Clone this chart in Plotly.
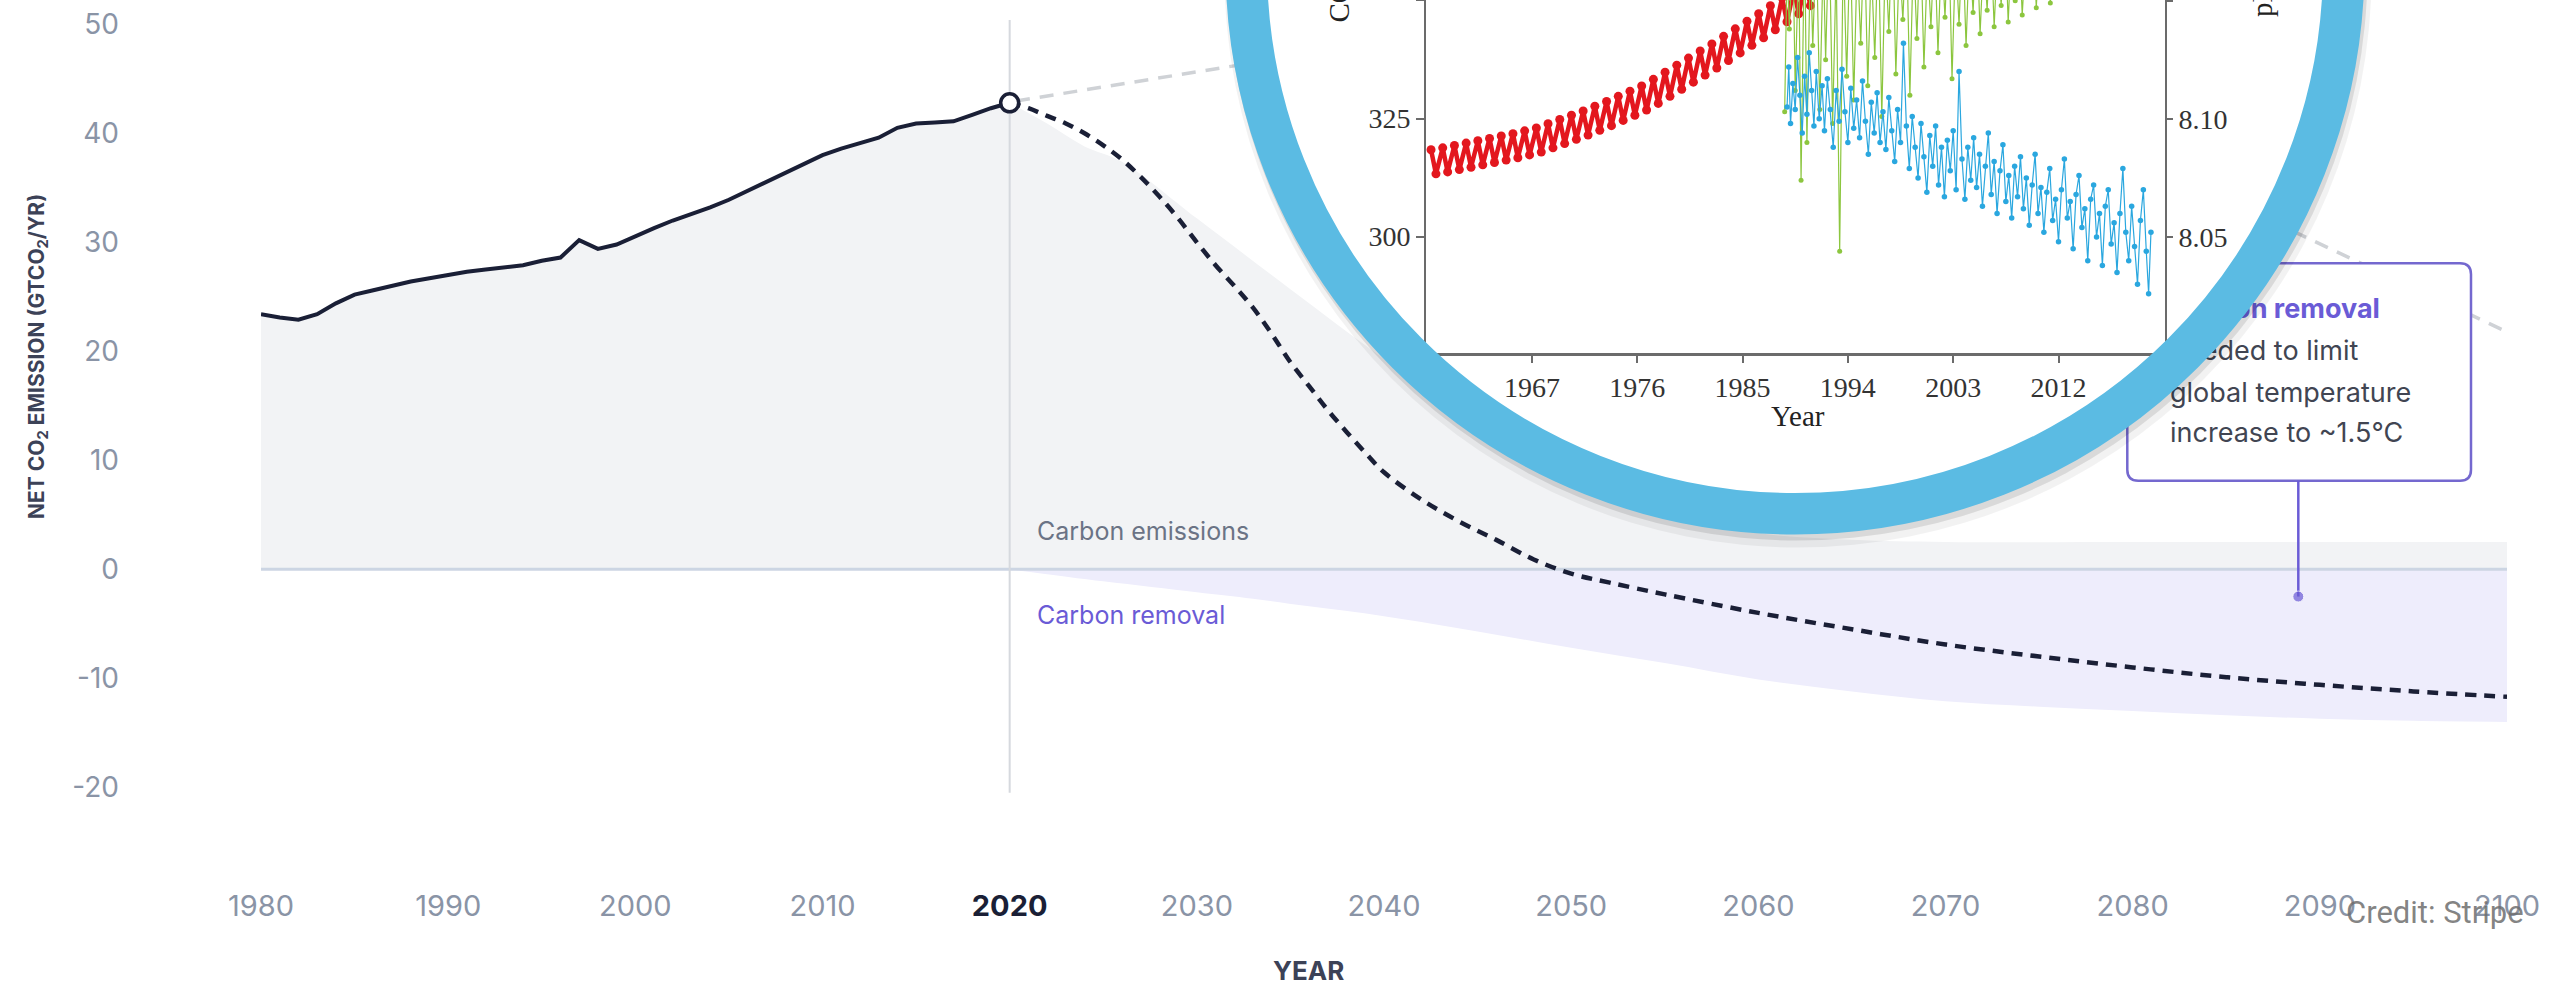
import plotly.graph_objects as go

# ---------------- main chart data (GtCO2 / yr) ----------------
hist_years = [1980, 1981, 1982, 1983, 1984, 1985, 1986, 1987, 1988, 1989,
              1990, 1991, 1992, 1993, 1994, 1995, 1996, 1997, 1998, 1999,
              2000, 2001, 2002, 2003, 2004, 2005, 2006, 2007, 2008, 2009,
              2010, 2011, 2012, 2013, 2014, 2015, 2016, 2017, 2018, 2019, 2020]
hist_emissions = [23.4, 23.1, 22.9, 23.4, 24.4, 25.2, 25.6, 26.0, 26.4, 26.7,
                  27.0, 27.3, 27.5, 27.7, 27.9, 28.3, 28.6, 30.2, 29.4, 29.8,
                  30.6, 31.3, 32.0, 32.6, 33.2, 33.9, 34.7, 35.5, 36.3, 37.2,
                  38.0, 38.6, 39.1, 39.6, 40.5, 40.9, 41.0, 41.1, 41.7, 42.3, 42.8]

proj_years = [2020, 2021, 2022, 2023, 2024, 2025, 2026, 2027, 2028, 2029,
              2030, 2031, 2032, 2033, 2034, 2035, 2036, 2037, 2038, 2039,
              2040, 2042, 2044, 2046, 2048, 2050, 2052, 2055, 2060, 2065,
              2070, 2075, 2080, 2085, 2090, 2095, 2100]
proj_net = [42.8, 42.3, 41.6, 40.9, 40.0, 38.9, 37.6, 36.0, 34.2, 32.2,
            30.0, 27.9, 26.0, 24.0, 21.6, 19.0, 16.8, 14.6, 12.6, 10.7,
            8.9, 6.4, 4.4, 2.7, 0.9, -0.4, -1.2, -2.3, -4.0, -5.5,
            -6.9, -8.0, -9.0, -9.9, -10.6, -11.2, -11.7]

emis_years = [2020, 2022, 2024, 2026, 2030, 2035, 2040, 2045, 2050, 2055,
              2060, 2065, 2070, 2080, 2090, 2100]
emis_vals = [42.8, 40.9, 38.8, 37.4, 32.2, 25.7, 19.3, 13.3, 8.3, 5.0,
             3.3, 2.7, 2.5, 2.5, 2.5, 2.5]

removal_years = [2020, 2025, 2030, 2033, 2036, 2040, 2045, 2050, 2055, 2060,
                 2065, 2070, 2075, 2080, 2085, 2090, 2095, 2100]
removal_vals = [0.0, -1.1, -2.1, -2.7, -3.4, -4.3, -5.7, -7.2, -8.6, -10.1,
                -11.2, -12.1, -12.6, -13.0, -13.4, -13.7, -13.9, -14.0]

x_ticks = [1980, 1990, 2000, 2010, 2020, 2030, 2040, 2050, 2060, 2070, 2080, 2090, 2100]
y_ticks = [-20, -10, 0, 10, 20, 30, 40, 50]
y_tick_text = ["-20", "-10", "0", "10", "20", "30", "40", "50"]
callout_year = 2088.85
callout_value = -2.5
box_lines = ["<b>Carbon removal</b>", "needed to limit", "global temperature", "increase to ~1.5°C"]

# ---------------- inset data ----------------
red_years = [1958, 1959, 1960, 1961, 1962, 1963, 1964, 1965, 1966, 1967, 1968,
             1969, 1970, 1971, 1972, 1973, 1974, 1975, 1976, 1977, 1978, 1979,
             1980, 1981, 1982, 1983, 1984, 1985, 1986, 1987, 1988, 1989, 1990]
red_peak = [318.4, 318.8, 319.3, 319.8, 320.3, 320.8, 321.3, 321.8, 322.4, 323.0, 323.9,
            324.8, 325.7, 326.6, 327.6, 328.6, 329.7, 330.8, 331.9, 333.3, 334.8, 336.3,
            337.8, 339.3, 340.8, 342.4, 344.0, 345.6, 347.2, 348.9, 350.6, 352.3, 354.0]
red_trough = [313.3, 313.7, 314.2, 314.7, 315.2, 315.7, 316.2, 316.7, 317.3, 317.9, 318.8,
              319.7, 320.6, 321.5, 322.5, 323.5, 324.6, 325.7, 326.8, 328.2, 329.7, 331.2,
              332.7, 334.2, 335.7, 337.3, 338.9, 340.5, 342.1, 343.8, 345.5, 347.2, 348.9]
PEAK_MONTH = 0.38
TROUGH_MONTH = 0.80

blue_t = [1988.8, 1988.95, 1989.1, 1989.3, 1989.5, 1989.7, 1989.9, 1990.1, 1990.3, 1990.5,
          1990.7, 1990.9, 1991.1, 1991.3, 1991.55, 1991.8, 1992.0, 1992.25, 1992.5, 1992.75,
          1993.0, 1993.25, 1993.5, 1993.75, 1994.0, 1994.25, 1994.5, 1994.75, 1995.0, 1995.25,
          1995.5, 1995.75, 1996.0, 1996.25, 1996.5, 1996.75, 1997.0, 1997.25, 1997.5, 1997.75,
          1998.0, 1998.25, 1998.5, 1998.75, 1999.0, 1999.25, 1999.5, 1999.75, 2000.0, 2000.25,
          2000.5, 2000.75, 2001.0, 2001.25, 2001.5, 2001.75, 2002.0, 2002.25, 2002.5, 2002.75,
          2003.0, 2003.25, 2003.5, 2003.75, 2004.0, 2004.25, 2004.5, 2004.75, 2005.0, 2005.25,
          2005.5, 2005.75, 2006.0, 2006.25, 2006.5, 2006.75, 2007.0, 2007.25, 2007.5, 2007.75,
          2008.0, 2008.25, 2008.5, 2008.75, 2009.0, 2009.25, 2009.5, 2009.75, 2010.0, 2010.25,
          2010.5, 2010.75, 2011.0, 2011.25, 2011.5, 2011.75, 2012.0, 2012.25, 2012.5, 2012.75,
          2013.0, 2013.25, 2013.5, 2013.75, 2014.0, 2014.25, 2014.5, 2014.75, 2015.0, 2015.25,
          2015.5, 2015.75, 2016.0, 2016.25, 2016.5, 2016.75, 2017.0, 2017.25, 2017.5, 2017.75,
          2018.0, 2018.25, 2018.5, 2018.75, 2019.0, 2019.25, 2019.5, 2019.7, 2019.9]
blue_ph = [8.105, 8.122, 8.098, 8.115, 8.104, 8.126, 8.110, 8.094, 8.118, 8.102,
           8.128, 8.112, 8.097, 8.120, 8.100, 8.114, 8.095, 8.117, 8.104, 8.088,
           8.112, 8.099, 8.121, 8.103, 8.090, 8.113, 8.096, 8.108, 8.092, 8.116,
           8.099, 8.085, 8.107, 8.094, 8.111, 8.090, 8.103, 8.087, 8.109, 8.095,
           8.082, 8.104, 8.090, 8.132, 8.097, 8.079, 8.101, 8.088, 8.075, 8.098,
           8.084, 8.069, 8.093, 8.080, 8.097, 8.072, 8.088, 8.067, 8.091, 8.078,
           8.095, 8.070, 8.120, 8.083, 8.066, 8.088, 8.074, 8.092, 8.071, 8.085,
           8.063, 8.080, 8.094, 8.068, 8.082, 8.060, 8.078, 8.089, 8.065, 8.076,
           8.058, 8.080, 8.067, 8.084, 8.062, 8.075, 8.055, 8.072, 8.085, 8.060,
           8.071, 8.052, 8.069, 8.079, 8.057, 8.066, 8.048, 8.070, 8.083, 8.058,
           8.065, 8.045, 8.068, 8.076, 8.054, 8.062, 8.040, 8.066, 8.072, 8.050,
           8.060, 8.038, 8.063, 8.070, 8.047, 8.056, 8.035, 8.060, 8.079, 8.052,
           8.040, 8.063, 8.046, 8.030, 8.057, 8.070, 8.044, 8.026, 8.052]

green_t = [1988.6, 1988.8, 1989.0, 1989.3, 1989.5, 1989.8, 1990.0, 1990.3, 1990.5, 1990.8,
           1991.0, 1991.3, 1991.6, 1991.9, 1992.1, 1992.4, 1992.7, 1993.0, 1993.3, 1993.6,
           1993.9, 1994.2, 1994.5, 1994.8, 1995.1, 1995.4, 1995.7, 1996.0, 1996.3, 1996.6,
           1996.9, 1997.2, 1997.5, 1997.8, 1998.1, 1998.4, 1998.7, 1999.0, 1999.3, 1999.6,
           1999.9, 2000.2, 2000.5, 2000.8, 2001.1, 2001.4, 2001.7, 2002.0, 2002.3, 2002.6,
           2002.9, 2003.2, 2003.5, 2003.8, 2004.1, 2004.4, 2004.7, 2005.0, 2005.3, 2005.6,
           2005.9, 2006.2, 2006.5, 2006.8, 2007.1, 2007.4, 2007.7, 2008.0, 2008.3, 2008.6,
           2008.9, 2009.2, 2009.5, 2009.8, 2010.1, 2010.4, 2010.7, 2011.0, 2011.3, 2011.6, 2011.8]
green_ph = [8.103, 8.165, 8.138, 8.175, 8.112, 8.170, 8.074, 8.180, 8.090, 8.168,
            8.131, 8.176, 8.104, 8.170, 8.125, 8.182, 8.098, 8.165, 8.044, 8.172,
            8.118, 8.178, 8.108, 8.169, 8.132, 8.181, 8.114, 8.166, 8.126, 8.177,
            8.101, 8.170, 8.137, 8.183, 8.119, 8.168, 8.142, 8.178, 8.110, 8.171,
            8.134, 8.180, 8.122, 8.167, 8.139, 8.176, 8.128, 8.171, 8.143, 8.182,
            8.117, 8.169, 8.140, 8.177, 8.131, 8.172, 8.145, 8.180, 8.136, 8.170,
            8.146, 8.178, 8.139, 8.171, 8.148, 8.182, 8.141, 8.174, 8.150, 8.179,
            8.144, 8.171, 8.152, 8.183, 8.147, 8.176, 8.154, 8.180, 8.149, 8.177, 8.156]
inset_x_ticks = [1967, 1976, 1985, 1994, 2003, 2012]
inset_co2_ticks = [300, 325, 350]
inset_ph_ticks = [8.05, 8.10, 8.15]
inset_ph_text = ["8.05", "8.10", "8.15"]

# interleave seasonal peaks/troughs
red_t, red_ppm = [], []
for yr, pk, tr in zip(red_years, red_peak, red_trough):
    red_t += [yr + PEAK_MONTH, yr + TROUGH_MONTH]
    red_ppm += [pk, tr]

# ---------------- geometry helpers (pixel -> paper) ----------------
W, H = 2552, 985
ML, MR, MT, MB = 261, 45, 0, 105
PW = W - ML - MR
PH = H - MT - MB


def px(x):
    return (x - ML) / PW


def py(y):
    return (PH + MT - y) / PH


def rrect(x0, y0, x1, y1, r):
    pts = [("M", x0 + r, y0), ("L", x1 - r, y0), ("Q", x1, y0, x1, y0 + r),
           ("L", x1, y1 - r), ("Q", x1, y1, x1 - r, y1), ("L", x0 + r, y1),
           ("Q", x0, y1, x0, y1 - r), ("L", x0, y0 + r), ("Q", x0, y0, x0 + r, y0)]
    s = ""
    for p in pts:
        if p[0] == "Q":
            s += "Q%.5f,%.5f %.5f,%.5f " % (px(p[1]), py(p[2]), px(p[3]), py(p[4]))
        else:
            s += "%s%.5f,%.5f " % (p[0], px(p[1]), py(p[2]))
    return s + "Z"


Y0_PX = 569.3       # pixel row of value 0
PX_PER_UNIT = 10.9  # pixels per GtCO2
PX_PER_YEAR = PW / 120.0
y_top = Y0_PX / PX_PER_UNIT
y_bot = -(PH - Y0_PX) / PX_PER_UNIT

DARK = "#1A1F36"
GRAY_TXT = "#8A94A6"
TITLE = "#3C4257"
PURPLE = "#6A5BD6"
FONT = "Inter, Roboto, sans-serif"
SERIF = "Liberation Serif, Times New Roman, serif"

fig = go.Figure()

# ---- main subplot (x, y) ----
fig.add_trace(go.Scatter(x=hist_years, y=hist_emissions, fill="tozeroy", mode="none",
                         fillcolor="#F2F3F5", hoverinfo="skip"))
fig.add_trace(go.Scatter(x=emis_years, y=emis_vals, fill="tozeroy", mode="none",
                         line_shape="spline", fillcolor="#F2F3F5", hoverinfo="skip"))
fig.add_trace(go.Scatter(x=removal_years, y=removal_vals, fill="tozeroy", mode="none",
                         line_shape="spline", fillcolor="#EEEDFC", hoverinfo="skip"))
fig.add_trace(go.Scatter(x=[x_ticks[0], x_ticks[-1]], y=[0, 0], mode="lines",
                         line=dict(color="#CCD5E3", width=3), hoverinfo="skip"))
fig.add_trace(go.Scatter(x=[2020, 2020], y=[-20.5, 50.4], mode="lines",
                         line=dict(color="#D6D9DE", width=2), hoverinfo="skip"))
fig.add_trace(go.Scatter(x=proj_years, y=proj_net, mode="lines", line_shape="spline",
                         line=dict(color=DARK, width=4.5, dash="11px,8px"), hoverinfo="skip"))
fig.add_trace(go.Scatter(x=hist_years, y=hist_emissions, mode="lines",
                         line=dict(color=DARK, width=4), hoverinfo="skip"))
fig.add_trace(go.Scatter(x=[hist_years[-1]], y=[hist_emissions[-1]], mode="markers",
                         marker=dict(size=18, color="white", line=dict(color=DARK, width=3.5)),
                         hoverinfo="skip"))
box_top_val = (Y0_PX - 480.7) / PX_PER_UNIT
fig.add_trace(go.Scatter(x=[callout_year, callout_year], y=[box_top_val, callout_value],
                         mode="lines+markers", line=dict(color=PURPLE, width=2.5),
                         marker=dict(size=[0, 11], color=PURPLE), hoverinfo="skip"))
line_rows = [311.7, 353.3, 395.0, 435.5]
text_left_year = 1980 + (2170 - ML) / PX_PER_YEAR
fig.add_trace(go.Scatter(
    x=[text_left_year] * 4, y=[(Y0_PX - r) / PX_PER_UNIT for r in line_rows],
    mode="text", text=box_lines,
    textfont=dict(family=FONT, size=27, color=[PURPLE, "#414552", "#414552", "#414552"]),
    textposition="middle right", hoverinfo="skip"))

# ---- magnifier mask subplot (x2, y2) in pixel units ----
fig.add_trace(go.Scatter(x=[None], y=[None], xaxis="x2", yaxis="y2", mode="lines",
                         hoverinfo="skip"))

# ---- inset subplot (x3, y3 / y4) ----
fig.add_trace(go.Scatter(x=red_t, y=red_ppm, xaxis="x3", yaxis="y3", mode="lines+markers",
                         line=dict(color="#E3171E", width=4.5),
                         marker=dict(size=9, color="#E3171E"), hoverinfo="skip"))
fig.add_trace(go.Scatter(x=green_t, y=green_ph, xaxis="x3", yaxis="y4", mode="lines+markers",
                         line=dict(color="#8CC63F", width=1.2),
                         marker=dict(size=5, color="#8CC63F"), hoverinfo="skip"))
fig.add_trace(go.Scatter(x=blue_t, y=blue_ph, xaxis="x3", yaxis="y4", mode="lines+markers",
                         line=dict(color="#2AA7DF", width=1.2),
                         marker=dict(size=5.5, color="#2AA7DF"), hoverinfo="skip"))

CX, CY = 1795, 35          # circle centre (x2 px, y2 = -row)
R_IN, R_OUT = 528, 569.5
R_MID = (R_IN + R_OUT) / 2
RING_W = R_OUT - R_IN

shapes = [
    # pointer lines (drawn under everything)
    dict(type="line", xref="paper", yref="paper", x0=px(1016), y0=py(101), x1=px(1320), y1=py(52),
         line=dict(color="#CFD2D6", width=3.5, dash="14px,10px"), layer="below"),
    dict(type="line", xref="paper", yref="paper", x0=px(2250), y0=py(211), x1=px(2505), y1=py(331),
         line=dict(color="#CFD2D6", width=3.5, dash="14px,10px"), layer="below"),
    # callout box
    dict(type="path", xref="paper", yref="paper", path=rrect(2127.3, 263.3, 2471, 480.7, 11),
         fillcolor="white", line=dict(color="#7468CF", width=2.5), layer="below"),
    # magnifier shadow + white lens (inside mask subplot)
    dict(type="circle", xref="x2", yref="y2", x0=CX + 3 - R_OUT - 4, x1=CX + 3 + R_OUT + 4,
         y0=CY - 9 - R_OUT - 4, y1=CY - 9 + R_OUT + 4,
         fillcolor="rgba(0,0,0,0.05)", line=dict(width=0), layer="below"),
    dict(type="circle", xref="x2", yref="y2", x0=CX + 2 - R_OUT - 1, x1=CX + 2 + R_OUT + 1,
         y0=CY - 5 - R_OUT - 1, y1=CY - 5 + R_OUT + 1,
         fillcolor="rgba(0,0,0,0.10)", line=dict(width=0), layer="below"),
    dict(type="circle", xref="x2", yref="y2", x0=CX - R_IN - 3, x1=CX + R_IN + 3,
         y0=CY - R_IN - 3, y1=CY + R_IN + 3,
         fillcolor="white", line=dict(width=0), layer="below"),
    # blue ring on top
    dict(type="circle", xref="x2", yref="y2", x0=CX - R_MID, x1=CX + R_MID,
         y0=CY - R_MID, y1=CY + R_MID,
         line=dict(color="#5BBBE3", width=RING_W), layer="above"),
]

annotations = [
    dict(text="NET CO<sub>2</sub> EMISSION (GTCO<sub>2</sub>/YR)", xref="paper", yref="paper",
         x=px(38), y=py(357), textangle=-90, showarrow=False, xanchor="center", yanchor="middle",
         font=dict(family=FONT, size=21, color=TITLE, weight="bold")),
    dict(text="YEAR", xref="paper", yref="paper", x=px(1308), y=py(970), showarrow=False,
         xanchor="center", yanchor="middle", font=dict(family=FONT, size=26, color=TITLE, weight="bold")),
    dict(text="Carbon emissions", xref="x", yref="y", x=2021.35, y=(Y0_PX - 531) / PX_PER_UNIT,
         showarrow=False, xanchor="left", yanchor="middle", font=dict(family=FONT, size=25, color="#6B7385")),
    dict(text="Carbon removal", xref="x", yref="y", x=2021.35, y=(Y0_PX - 615) / PX_PER_UNIT,
         showarrow=False, xanchor="left", yanchor="middle", font=dict(family=FONT, size=25, color=PURPLE)),
    dict(text="Year", xref="paper", yref="paper", x=px(1798), y=py(416), showarrow=False,
         xanchor="center", yanchor="middle", font=dict(family=SERIF, size=29, color="#222")),
    dict(text="CO<sub>2</sub> (ppm)", xref="paper", yref="paper", x=px(1340), y=py(25), textangle=-90,
         showarrow=False, xanchor="center", yanchor="bottom", font=dict(family=SERIF, size=29, color="#222")),
    dict(text="pH", xref="paper", yref="paper", x=px(2262), y=py(19), textangle=-90,
         showarrow=False, xanchor="center", yanchor="bottom", font=dict(family=SERIF, size=29, color="#222")),
    dict(text="Credit: Stripe", xref="paper", yref="paper", x=px(2526), y=py(912), showarrow=False,
         xanchor="right", yanchor="middle",
         font=dict(family="Roboto, sans-serif", size=31, color="rgba(110,110,110,0.85)")),
]

x_text = ['<span style="color:%s"><b>%d</b></span>' % (DARK, v) if v == 2020 else str(v) for v in x_ticks]

fig.update_layout(
    width=W, height=H,
    margin=dict(l=ML, r=MR, t=MT, b=MB, pad=0),
    paper_bgcolor="white", plot_bgcolor="rgba(0,0,0,0)",
    showlegend=False, hovermode=False,
    font=dict(family=FONT),
    xaxis=dict(domain=[0, 1], range=[1980, 2100], tickvals=x_ticks, ticktext=x_text,
               showgrid=False, zeroline=False, showline=False, ticks="",
               tickfont=dict(family=FONT, size=29, color=GRAY_TXT), ticklabelstandoff=6,
               fixedrange=True),
    yaxis=dict(domain=[0, 1], range=[y_bot, y_top], tickvals=y_ticks, ticktext=y_tick_text,
               showgrid=False, zeroline=False, showline=False, ticks="",
               tickfont=dict(family=FONT, size=28, color=GRAY_TXT), ticklabelstandoff=141,
               fixedrange=True),
    xaxis2=dict(domain=[px(1200), px(2400)], range=[1200, 2400], anchor="y2", visible=False,
                fixedrange=True),
    yaxis2=dict(domain=[py(575), 1], range=[-575, 0], anchor="x2", visible=False, fixedrange=True),
    xaxis3=dict(domain=[px(1426), px(2165)], range=[1957.95, 2021.1], anchor="y3",
                tickvals=inset_x_ticks, showgrid=False, zeroline=False,
                showline=True, linecolor="#6B6B6B", linewidth=3, mirror=False,
                ticks="outside", ticklen=7, tickwidth=2, tickcolor="#6B6B6B",
                tickfont=dict(family=SERIF, size=28, color="#333"), fixedrange=True),
    yaxis3=dict(domain=[py(353.3), 1], range=[275.3, 350.1], anchor="x3",
                tickvals=inset_co2_ticks, showgrid=False, zeroline=False,
                showline=True, linecolor="#6B6B6B", linewidth=2,
                ticks="outside", ticklen=8, tickwidth=2, tickcolor="#6B6B6B",
                tickfont=dict(family=SERIF, size=28, color="#333"), fixedrange=True),
    yaxis4=dict(range=[8.0008, 8.1503], overlaying="y3", side="right", anchor="x3",
                tickvals=inset_ph_ticks, ticktext=inset_ph_text,
                showgrid=False, zeroline=False,
                showline=True, linecolor="#6B6B6B", linewidth=2,
                ticks="outside", ticklen=6, tickwidth=2, tickcolor="#6B6B6B",
                tickfont=dict(family=SERIF, size=28, color="#333"), fixedrange=True),
    shapes=shapes,
    annotations=annotations,
)

fig.write_html("out.html", config={"displayModeBar": False},
               post_script="document.body.style.margin='0';document.body.style.overflow='hidden';")
